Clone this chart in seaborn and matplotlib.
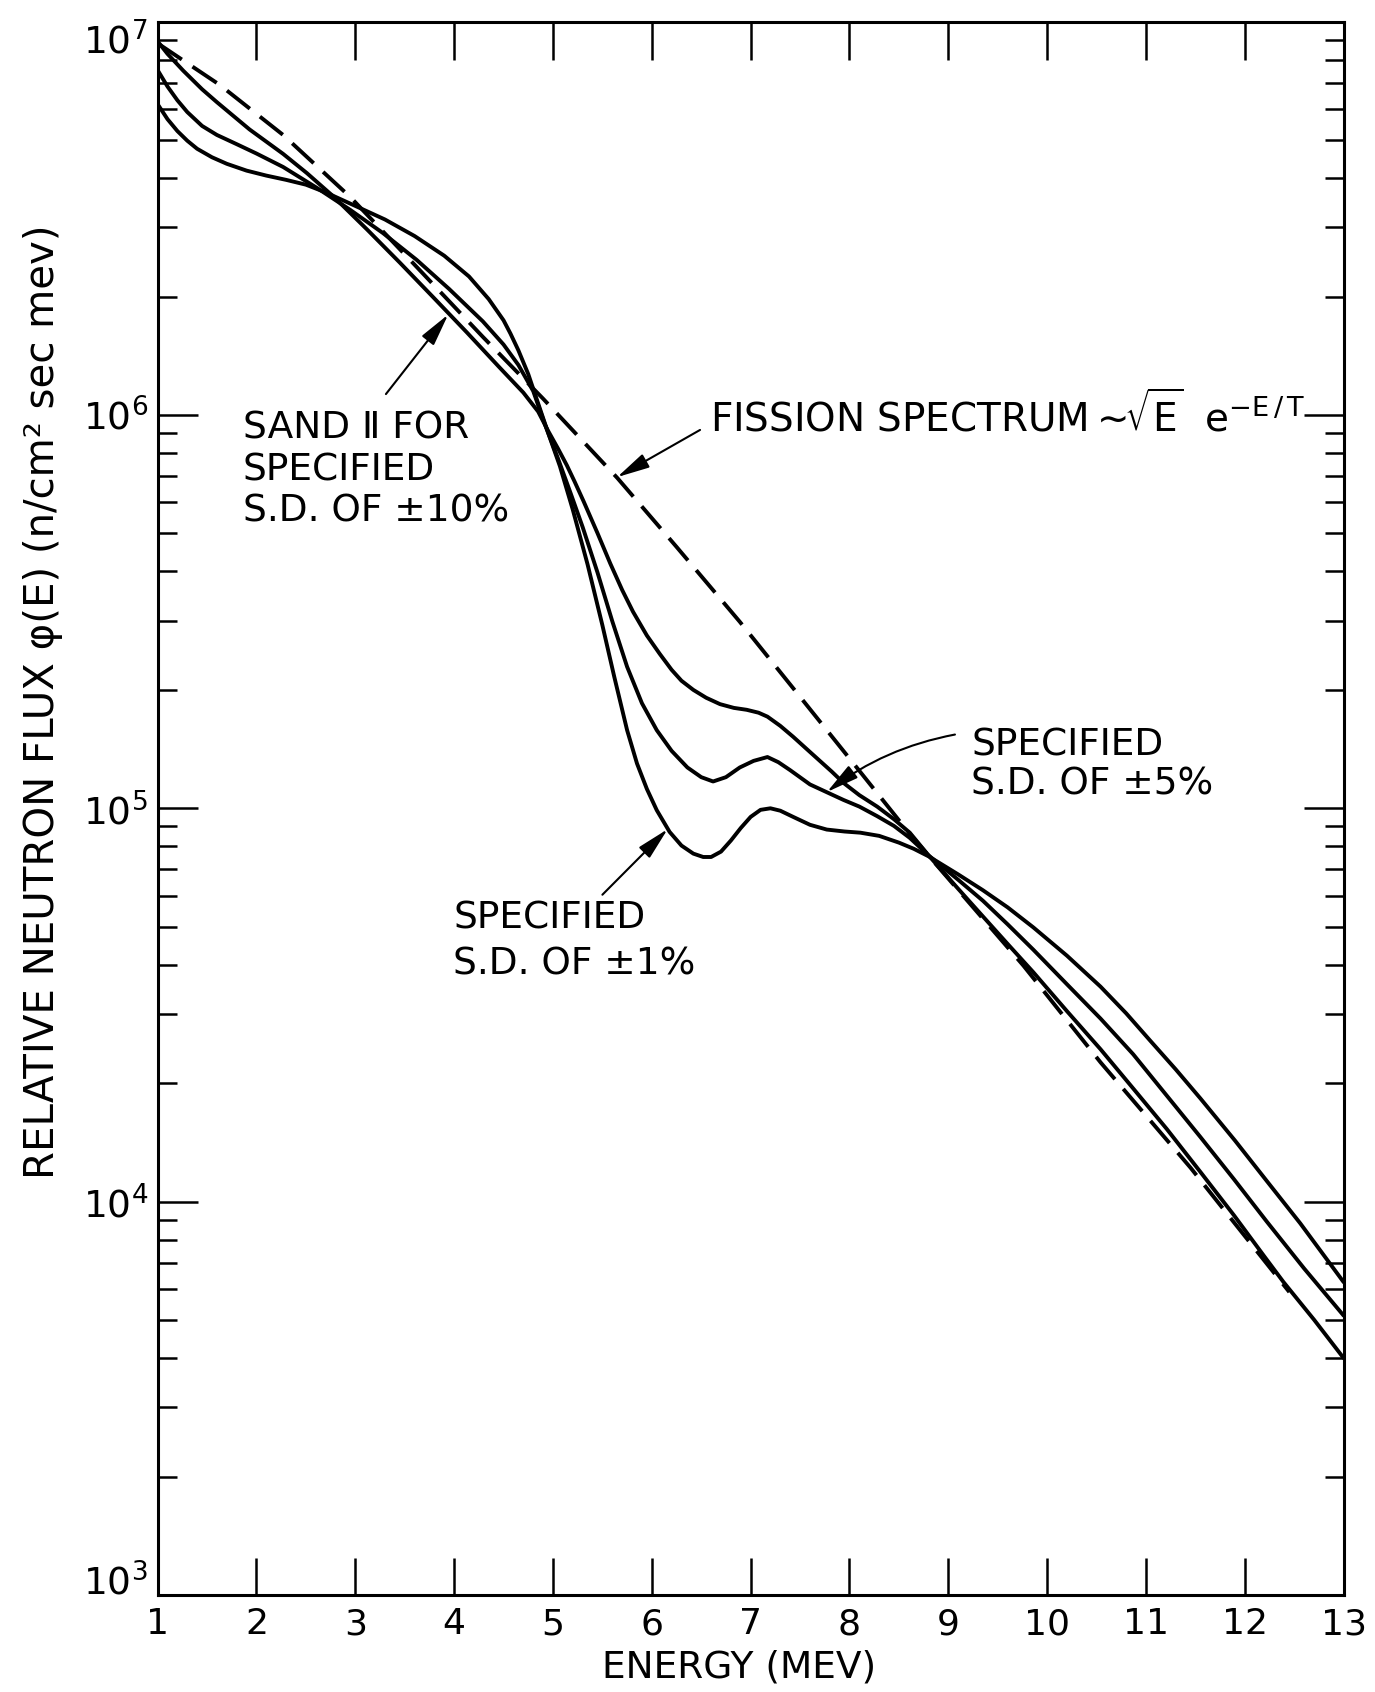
import numpy as np
import pandas as pd
import matplotlib
matplotlib.use("Agg")
import matplotlib.pyplot as plt
from matplotlib.ticker import (FixedLocator, LogLocator, NullFormatter,
                               NullLocator, FuncFormatter)
import seaborn as sns

# ---------------------------------------------------------------------------
# Neutron flux spectra, energy in MeV, flux in n/cm^2 sec MeV
# ---------------------------------------------------------------------------
fission_e = [1.0, 1.63, 2.27, 2.95, 3.62, 4.29, 4.90, 5.65, 6.25, 6.89,
             7.43, 8.03, 8.61, 9.76, 10.54, 11.45, 12.45]
fission_flux = [8.81e6, 6.90e6, 5.15e6, 3.58e6, 2.38e6, 1.58e6, 1.10e6,
                6.92e5, 4.62e5, 2.98e5, 2.02e5, 1.31e5, 8.61e4, 3.98e4,
                2.26e4, 1.22e4, 5.89e3]

# SAND II, specified S.D. of +-10 %
sd10_e = [1.0, 1.1, 1.26, 1.45, 1.6, 1.93, 2.27, 2.51, 2.78, 3.12, 3.45,
          3.79, 4.13, 4.46, 4.7, 4.85, 4.95, 5.05, 5.14, 5.22, 5.31, 5.45,
          5.58, 5.7, 5.81, 5.95, 6.08, 6.2, 6.3, 6.42, 6.55, 6.69, 6.83,
          6.96, 7.08, 7.17, 7.3, 7.43, 7.56, 7.7, 7.82, 7.94, 8.1, 8.28,
          8.45, 8.61, 8.8, 9.1, 9.35, 9.6, 9.86, 10.2, 10.54, 10.87, 11.21,
          11.55, 11.89, 12.2, 12.39, 12.7, 13.0]
sd10_flux = [8.91e6, 8.28e6, 7.50e6, 6.73e6, 6.24e6, 5.32e6, 4.61e6, 4.12e6,
             3.59e6, 2.96e6, 2.44e6, 1.99e6, 1.62e6, 1.32e6, 1.14e6, 1.02e6,
             9.12e5, 8.22e5, 7.45e5, 6.76e5, 6.03e5, 5.01e5, 4.19e5, 3.59e5,
             3.16e5, 2.75e5, 2.47e5, 2.25e5, 2.11e5, 2.00e5, 1.91e5, 1.84e5,
             1.80e5, 1.78e5, 1.75e5, 1.71e5, 1.62e5, 1.52e5, 1.42e5, 1.32e5,
             1.24e5, 1.16e5, 1.08e5, 1.01e5, 9.38e4, 8.67e4, 7.59e4, 6.24e4,
             5.31e4, 4.52e4, 3.83e4, 3.05e4, 2.44e4, 1.94e4, 1.53e4, 1.19e4,
             9.23e3, 7.24e3, 6.25e3, 5.01e3, 4.0e3]

# Specified S.D. of +-5 %
sd5_e = [1.0, 1.1, 1.2, 1.3, 1.45, 1.6, 1.8, 2.0, 2.27, 2.61, 2.95, 3.28,
         3.62, 3.95, 4.29, 4.5, 4.65, 4.8, 4.92, 5.05, 5.18, 5.3, 5.45, 5.6,
         5.75, 5.9, 6.05, 6.2, 6.36, 6.5, 6.62, 6.75, 6.89, 7.03, 7.17,
         7.28, 7.4, 7.6, 7.8, 7.94, 8.1, 8.28, 8.45, 8.61, 8.8, 9.1, 9.35,
         9.6, 9.86, 10.2, 10.54, 10.87, 11.21, 11.55, 11.89, 12.22, 12.6,
         13.0]
sd5_flux = [7.53e6, 6.84e6, 6.31e6, 5.89e6, 5.43e6, 5.15e6, 4.88e6, 4.62e6,
            4.27e6, 3.78e6, 3.32e6, 2.90e6, 2.48e6, 2.09e6, 1.73e6, 1.51e6,
            1.34e6, 1.15e6, 9.44e5, 7.76e5, 6.31e5, 5.19e5, 3.98e5, 2.99e5,
            2.29e5, 1.85e5, 1.58e5, 1.40e5, 1.27e5, 1.20e5, 1.17e5, 1.20e5,
            1.27e5, 1.32e5, 1.35e5, 1.31e5, 1.25e5, 1.15e5, 1.09e5, 1.05e5,
            1.01e5, 9.55e4, 9.02e4, 8.41e4, 7.59e4, 6.58e4, 5.82e4, 5.07e4,
            4.37e4, 3.57e4, 2.92e4, 2.37e4, 1.86e4, 1.46e4, 1.14e4, 8.91e3,
            6.76e3, 5.13e3]

# Specified S.D. of +-1 %
sd1_e = [1.0, 1.1, 1.2, 1.3, 1.4, 1.55, 1.7, 1.9, 2.1, 2.3, 2.5, 2.7, 3.0,
         3.3, 3.6, 3.9, 4.15, 4.35, 4.5, 4.57, 4.65, 4.75, 4.85, 4.95, 5.07,
         5.2, 5.35, 5.5, 5.62, 5.75, 5.85, 5.95, 6.05, 6.18, 6.3, 6.42,
         6.52, 6.6, 6.7, 6.8, 6.9, 7.0, 7.1, 7.2, 7.3, 7.43, 7.6, 7.77,
         7.95, 8.11, 8.3, 8.5, 8.65, 8.8, 9.1, 9.35, 9.6, 9.86, 10.2, 10.54,
         10.8, 11.04, 11.3, 11.55, 11.9, 12.22, 12.56, 13.0]
sd1_flux = [6.17e6, 5.65e6, 5.27e6, 4.98e6, 4.75e6, 4.52e6, 4.35e6, 4.18e6,
            4.06e6, 3.96e6, 3.85e6, 3.68e6, 3.40e6, 3.14e6, 2.85e6, 2.54e6,
            2.25e6, 1.97e6, 1.74e6, 1.61e6, 1.46e6, 1.27e6, 1.07e6, 9.02e5,
            7.41e5, 5.75e5, 4.17e5, 2.92e5, 2.16e5, 1.58e5, 1.30e5, 1.12e5,
            9.89e4, 8.71e4, 8.04e4, 7.67e4, 7.52e4, 7.52e4, 7.76e4, 8.28e4,
            8.91e4, 9.51e4, 9.91e4, 1.0e5, 9.86e4, 9.51e4, 9.08e4, 8.83e4,
            8.73e4, 8.67e4, 8.51e4, 8.18e4, 7.89e4, 7.55e4, 6.79e4, 6.19e4,
            5.60e4, 4.98e4, 4.22e4, 3.52e4, 3.01e4, 2.57e4, 2.17e4, 1.83e4,
            1.43e4, 1.13e4, 8.81e3, 6.24e3]

x_ticks = list(range(1, 14))
y_decades = [1e3, 1e4, 1e5, 1e6, 1e7]

# ---------------------------------------------------------------------------
sns.set_theme(style="ticks", rc={
    "axes.edgecolor": "black", "axes.labelcolor": "black",
    "text.color": "black", "xtick.color": "black", "ytick.color": "black",
    "axes.linewidth": 2.2,
})
plt.rcParams["font.family"] = ["DejaVu Sans"]
plt.rcParams["mathtext.fontset"] = "dejavusans"
plt.rcParams["mathtext.default"] = "regular"

fig = plt.figure(figsize=(13.75, 16.92), dpi=100)
ax = fig.add_axes([0.11462, 0.05733, 0.86262, 0.92990])

line_kw = dict(color="black", linewidth=2.8, estimator=None, sort=False,
               legend=False, ax=ax)
sns.lineplot(x=fission_e, y=fission_flux, linestyle=(0, (7.5, 3.3)),
             **line_kw)
for e, f in [(sd10_e, sd10_flux), (sd5_e, sd5_flux), (sd1_e, sd1_flux)]:
    sns.lineplot(x=e, y=f, solid_joinstyle="round", **line_kw)

ax.set_yscale("log")
ax.set_xlim(1, 13)
ax.set_ylim(1e3, 1e7)

ax.xaxis.set_major_locator(FixedLocator(x_ticks))
ax.xaxis.set_minor_locator(NullLocator())
ax.set_xticklabels([str(t) for t in x_ticks])
ax.yaxis.set_major_locator(FixedLocator(y_decades))
ax.yaxis.set_minor_locator(LogLocator(base=10, subs=np.arange(2, 10),
                                      numticks=100))
ax.yaxis.set_minor_formatter(NullFormatter())
ax.yaxis.set_major_formatter(
    FuncFormatter(lambda v, p: f"$10^{{{int(round(np.log10(v)))}}}$"))

ax.tick_params(axis="x", which="major", direction="in", length=27, width=1.8,
               top=True, bottom=True, labelsize=26, pad=9)
ax.tick_params(axis="y", which="major", direction="in", length=29, width=1.8,
               left=True, right=True, labelsize=27, pad=7)
ax.tick_params(axis="y", which="minor", direction="in", length=13.5,
               width=1.8, left=True, right=True)
for s in ax.spines.values():
    s.set_linewidth(2.2)
    s.set_visible(True)

ax.set_xlabel("ENERGY (MEV)", fontsize=27)
ax.xaxis.set_label_coords(0.490, -0.0462)
ax.xaxis.label.set_va("center")
ax.set_ylabel("RELATIVE NEUTRON FLUX φ(E) (n/cm² sec mev)", fontsize=29)
ax.yaxis.set_label_coords(-0.0966, 0.568)
ax.yaxis.label.set_va("center")

# ---------------------------------------------------------------------------
# Labels and pointer arrows
# ---------------------------------------------------------------------------
txt = dict(fontsize=27, ha="left", va="center", multialignment="left")
arrow = dict(arrowstyle="-|>,head_length=0.95,head_width=0.22",
             mutation_scale=21, lw=1.5, color="black", shrinkA=0, shrinkB=0)

ax.text(1.862, 7.23e5, "SAND Ⅱ FOR\nSPECIFIED\nS.D. OF ±10%", **txt)
ax.annotate("", xy=(3.94, 1.80e6), xytext=(3.31, 1.13e6), arrowprops=arrow)

ax.text(6.591, 9.08e5,
        r"FISSION SPECTRUM $\!\!\sim\!\!\sqrt{E}\;$ e$^{-E\,/\,T}$",
        fontsize=28, ha="left", va="baseline")
ax.annotate("", xy=(5.65, 6.95e5), xytext=(6.488, 9.16e5), arrowprops=arrow)

ax.text(9.233, 1.29e5, "SPECIFIED\nS.D. OF ±5%", linespacing=1.12, **txt)
ax.annotate("", xy=(7.772, 1.10e5), xytext=(9.067, 1.54e5),
            arrowprops=dict(arrow, connectionstyle="arc3,rad=0.12"))

ax.text(3.992, 4.58e4, "SPECIFIED\nS.D. OF ±1%", linespacing=1.35, **txt)
ax.annotate("", xy=(6.16, 8.85e4), xytext=(5.50, 6.03e4), arrowprops=arrow)

# Keep the end-decade labels inside the frame height
fig.canvas.draw()
yticks = ax.yaxis.get_major_ticks()
yticks[0].label1.set_verticalalignment("baseline")
yticks[-1].label1.set_verticalalignment("top")

fig.savefig("out.png", dpi=100)
